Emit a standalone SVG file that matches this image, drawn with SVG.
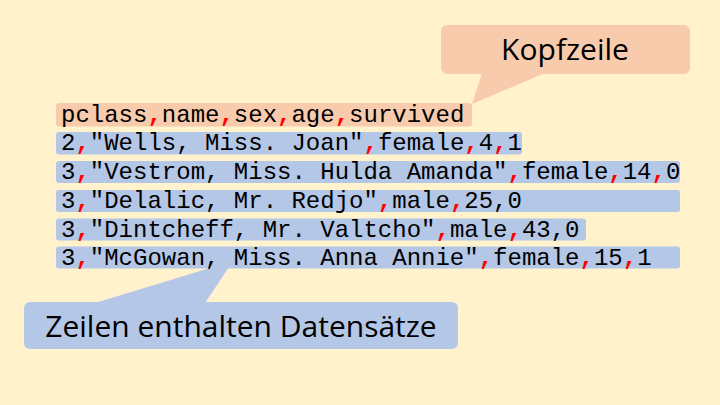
<svg xmlns="http://www.w3.org/2000/svg" width="720" height="405" viewBox="0 0 720 405">
<style>
.bg{fill:#fff2cc}
.hdr{fill:#f8cbad}
.row{fill:#b4c7e7}
.code{font-family:"Liberation Mono","Courier New",monospace;font-size:24px;fill:#000}
.sep{fill:#ff0000;font-weight:bold}
.lbl{font-family:"Open Sans","Noto Sans",sans-serif;fill:#000;text-anchor:middle;font-size:30px}
</style>
<rect class="bg" x="0" y="0" width="720" height="405"/>
<g id="connectors">
<polygon class="hdr" points="482,73 545,73 472,104"/>
<polygon class="row" points="95,303 205,303 233,261"/>
</g>
<g id="header-row">
<rect class="hdr" x="56" y="103" width="416" height="23.5" rx="3"/>
<text class="code" x="61" y="121.5">pclass<tspan class="sep">,</tspan>name<tspan class="sep">,</tspan>sex<tspan class="sep">,</tspan>age<tspan class="sep">,</tspan>survived</text>
</g>
<g id="row1">
<rect class="row" x="56" y="132" width="466" height="22.5" rx="3"/>
<text class="code" x="61" y="150">2<tspan class="sep">,</tspan>"Wells, Miss. Joan"<tspan class="sep">,</tspan>female<tspan class="sep">,</tspan>4<tspan class="sep">,</tspan>1</text>
</g>
<g id="row2">
<rect class="row" x="56" y="161" width="624" height="22" rx="3"/>
<text class="code" x="61" y="179">3<tspan class="sep">,</tspan>"Vestrom, Miss. Hulda Amanda"<tspan class="sep">,</tspan>female<tspan class="sep">,</tspan>14<tspan class="sep">,</tspan>0</text>
</g>
<g id="row3">
<rect class="row" x="56" y="190" width="624" height="22" rx="3"/>
<text class="code" x="61" y="208">3<tspan class="sep">,</tspan>"Delalic, Mr. Redjo"<tspan class="sep">,</tspan>male<tspan class="sep">,</tspan>25,0</text>
</g>
<g id="row4">
<rect class="row" x="56" y="218.5" width="530" height="22" rx="3"/>
<text class="code" x="61" y="236.5">3<tspan class="sep">,</tspan>"Dintcheff, Mr. Valtcho"<tspan class="sep">,</tspan>male<tspan class="sep">,</tspan>43,0</text>
</g>
<g id="row5">
<rect class="row" x="56" y="246.5" width="624" height="22" rx="3"/>
<text class="code" x="61" y="264.5">3<tspan class="sep">,</tspan>"McGowan, Miss. Anna Annie"<tspan class="sep">,</tspan>female<tspan class="sep">,</tspan>15<tspan class="sep">,</tspan>1</text>
</g>
<g id="callout-kopfzeile">
<rect class="hdr" x="441" y="25" width="249" height="49" rx="6"/>
<text class="lbl" x="565" y="59.5">Kopfzeile</text>
</g>
<g id="callout-zeilen">
<rect class="row" x="24" y="302" width="434" height="47" rx="6"/>
<text class="lbl" x="241" y="336.5">Zeilen enthalten Datensätze</text>
</g>
</svg>
